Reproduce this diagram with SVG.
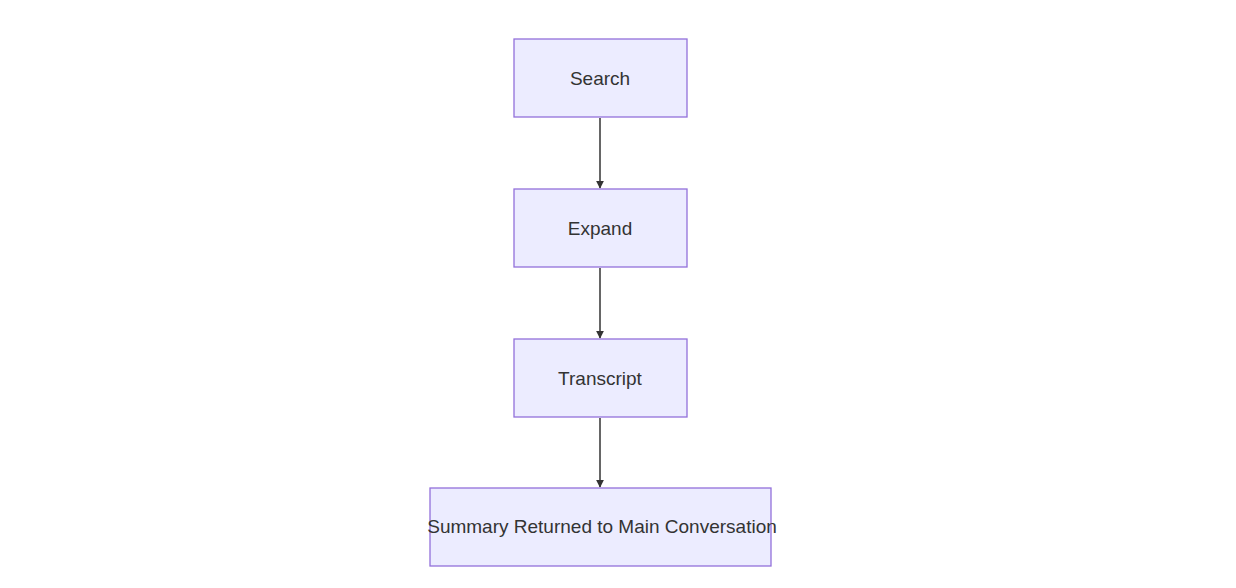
<svg xmlns="http://www.w3.org/2000/svg" width="1236" height="588" viewBox="0 0 1236 588">
<style>
.n rect{fill:#ECECFF;stroke:#9370DB;stroke-width:1.3}
.n text{font-family:"Liberation Sans",Arial,sans-serif;font-size:19px;fill:#333;text-anchor:middle;dominant-baseline:central}
.e line{stroke:#333;stroke-width:1.5}
</style>
<defs><marker id="a" viewBox="0 0 10 10" refX="9" refY="5" markerWidth="8" markerHeight="8" markerUnits="userSpaceOnUse" orient="auto"><path d="M0,0L10,5L0,10z" fill="#333"/></marker></defs>
<rect width="1236" height="588" fill="#fff"/>
<g class="e">
<line x1="600" y1="118" x2="600" y2="188" marker-end="url(#a)"/>
<line x1="600" y1="268" x2="600" y2="338" marker-end="url(#a)"/>
<line x1="600" y1="418" x2="600" y2="487" marker-end="url(#a)"/>
</g>
<g id="search" class="n"><rect x="514" y="39" width="173" height="78"/><text x="600" y="78">Search</text></g>
<g id="expand" class="n"><rect x="514" y="189" width="173" height="78"/><text x="600" y="228">Expand</text></g>
<g id="transcript" class="n"><rect x="514" y="339" width="173" height="78"/><text x="600" y="378">Transcript</text></g>
<g id="summary" class="n"><rect x="430" y="488" width="341" height="78"/><text x="602" y="526">Summary Returned to Main Conversation</text></g>
</svg>
